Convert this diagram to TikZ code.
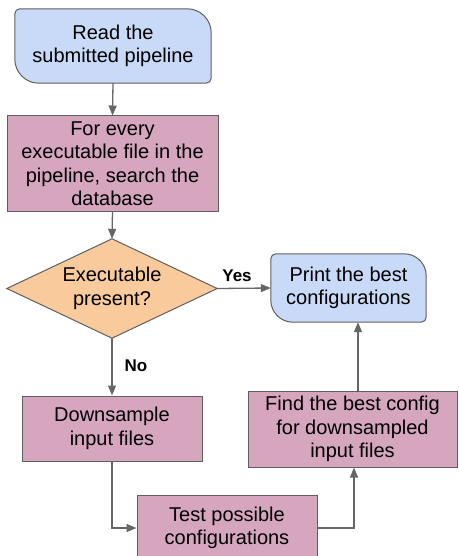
\documentclass[tikz,border=0pt]{standalone}
\usepackage{fontspec}
\setmainfont{Liberation Sans}
\usetikzlibrary{arrows.meta,backgrounds}
\definecolor{blueF}{HTML}{C9DAF8}
\definecolor{pinkF}{HTML}{D5A6BD}
\definecolor{orangeF}{HTML}{F9CB9C}
\definecolor{edgeC}{HTML}{666666}
\definecolor{borderC}{HTML}{5F5F5F}
% diagonal-rounded shape drawn round a node: #1 node name, #2 fill, #3 big radius
\newcommand\diagshape[3]{%
  \path[shapeline, fill=#2]
    ([xshift=5pt]#1.north west) -- ([xshift=-#3]#1.north east)
    .. controls ([xshift=-0.45*#3]#1.north east) and ([yshift=-0.45*#3]#1.north east) .. ([yshift=-#3]#1.north east)
    -- ([yshift=5pt]#1.south east)
    .. controls ([yshift=2.25pt]#1.south east) and ([xshift=-2.25pt]#1.south east) .. ([xshift=-5pt]#1.south east)
    -- ([xshift=#3]#1.south west)
    .. controls ([xshift=0.45*#3]#1.south west) and ([yshift=0.45*#3]#1.south west) .. ([yshift=#3]#1.south west)
    -- ([yshift=-5pt]#1.north west)
    .. controls ([yshift=-2.25pt]#1.north west) and ([xshift=2.25pt]#1.north west) .. ([xshift=5pt]#1.north west)
    -- cycle;}
\begin{document}
\begin{tikzpicture}[x=1pt,y=-1pt,
  txt/.style={align=center, font=\fontsize{20}{23.5}\selectfont, inner sep=0pt, text=black},
  box/.style={txt, rectangle, fill=pinkF, draw=borderC, line width=1pt},
  plain/.style={txt, rectangle, draw=none},
  shapeline/.style={draw=borderC, line width=1pt},
  arr/.style={draw=edgeC, line width=1.3pt, -{Triangle[length=10pt,width=8pt]}},
  lbl/.style={font=\fontsize{17}{20}\selectfont\bfseries, inner sep=0pt, text=black}
]
\clip (0,0) rectangle (458,556);
% nodes
\node[plain, minimum width=196, minimum height=74] (read) at (113,46) {Read the\\submitted pipeline};
\node[box, minimum width=211, minimum height=95] (search) at (112.5,163.5) {For every\\executable file in the\\pipeline, search the\\database};
\node[plain, minimum width=210, minimum height=99] (dec) at (112,288.5) {Executable\\present?};
\node[plain, minimum width=155, minimum height=68] (print) at (348.5,288) {Print the best\\configurations};
\node[box, minimum width=180, minimum height=65] (down) at (112,428.5) {Downsample\\input files};
\node[box, minimum width=180, minimum height=66] (test) at (227,528) {Test possible\\configurations};
\node[box, minimum width=209, minimum height=76] (find) at (352.5,429) {Find the best config\\for downsampled\\input files};
% shapes behind the text
\begin{scope}[on background layer]
  \diagshape{read}{blueF}{24pt}
  \diagshape{print}{blueF}{22pt}
  \path[shapeline, fill=orangeF] (dec.north) -- (dec.east) -- (dec.south) -- (dec.west) -- cycle;
\end{scope}
% connectors
\draw[arr] (read.south) -- (search.north);
\draw[arr] (search.south) -- (dec.north);
\draw[arr] (dec.east) -- (print.west);
\draw[arr] (dec.south) -- (down.north);
\draw[arr] (down.south) |- (test.west);
\draw[arr] (test.east) -| ([xshift=1.5pt]find.south);
\draw[arr] ([xshift=5.5pt]find.north) -- ([xshift=5.5pt]find.north |- print.south);
% labels
\node[lbl] (yes) at (237,276) {Yes};
\node[lbl] (no) at (136,366) {No};
\end{tikzpicture}
\end{document}
